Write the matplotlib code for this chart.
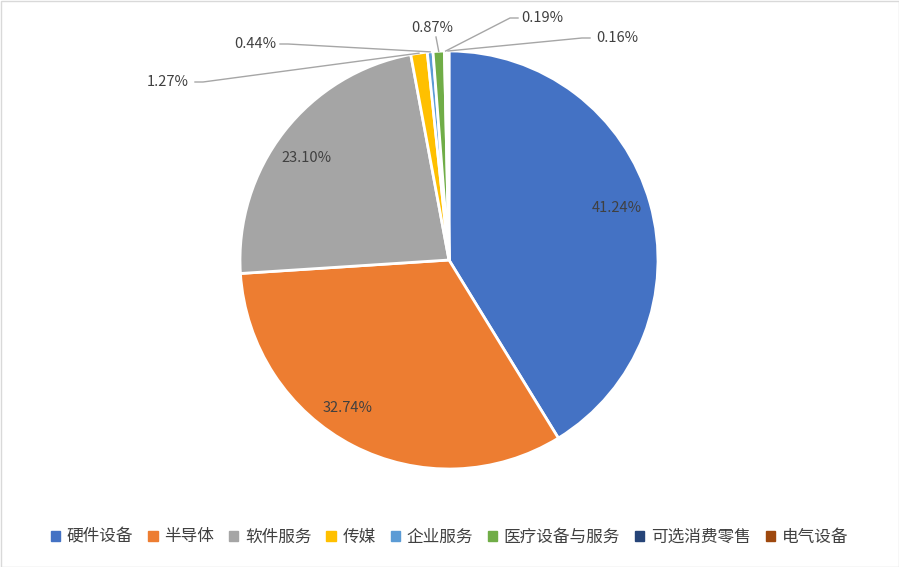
import matplotlib
matplotlib.use("Agg")
import matplotlib.pyplot as plt
import numpy as np
from matplotlib.patches import Rectangle

plt.rcParams['font.family'] = ['Noto Sans CJK SC', 'DejaVu Sans']

categories = ['硬件设备', '半导体', '软件服务', '传媒', '企业服务', '医疗设备与服务', '可选消费零售', '电气设备']
values = [41.24, 32.74, 23.10, 1.27, 0.44, 0.87, 0.19, 0.16]
colors = ['#4472C4', '#ED7D31', '#A5A5A5', '#FFC000', '#5B9BD5', '#70AD47', '#264478', '#9E480E']

W, H = 899, 567
fig = plt.figure(figsize=(W/100, H/100), dpi=100)
ax = fig.add_axes([0, 0, 1, 1])
ax.add_patch(Rectangle((0.5, 0.5), W-1, H-1, fill=False, ec='#D9D9D9', lw=1))

cx, cy, R = 449, 307, 209
wedges, _ = ax.pie(values, colors=colors, startangle=90, counterclock=False,
                   center=(cx, cy), radius=R, frame=True,
                   wedgeprops=dict(edgecolor='white', linewidth=2))
ax.set_xlim(0, W); ax.set_ylim(0, H); ax.set_aspect('equal'); ax.axis('off')

inside = {0: (617, 359), 1: (348, 159), 2: (306, 409)}
outside = {3: (168, 485, 195), 4: (255, 523, 280), 5: (432, 539, None),
           6: (542, 549, 518), 7: (617, 529, 590)}
for i, w in enumerate(wedges):
    txt = f"{values[i]:.2f}%"
    if i in inside:
        ax.text(*inside[i], txt, ha='center', va='center', fontsize=10.5, color='#404040')
    else:
        tx, ty, lx = outside[i]
        ang = np.deg2rad((w.theta1 + w.theta2) / 2)
        ex, ey = cx + R*np.cos(ang), cy + R*np.sin(ang)
        ax.text(tx, ty, txt, ha='center', va='center', fontsize=10.5, color='#404040')
        if lx is None:
            ax.plot([tx+4, ex], [ty-9, ey], color='#A6A6A6', lw=1)
        elif lx < tx:
            ax.plot([lx, lx-8, ex], [ty, ty, ey], color='#A6A6A6', lw=1)
        else:
            ax.plot([lx, lx+8, ex], [ty, ty, ey], color='#A6A6A6', lw=1)

handles = [Rectangle((0, 0), 1, 1, color=c) for c in colors]
fig.legend(handles, categories, loc='center', bbox_to_anchor=(0.5, 1-537/H), ncol=8,
           frameon=False, fontsize=12, handlelength=0.55, handleheight=0.55,
           handletextpad=0.4, columnspacing=0.9, labelcolor='#404040')
fig.savefig('out.png', dpi=100)
